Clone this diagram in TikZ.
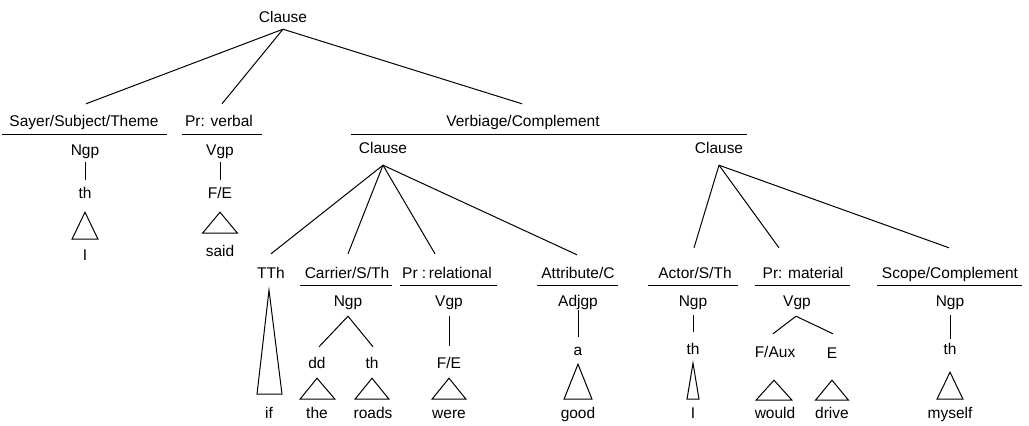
\documentclass[tikz,border=0pt]{standalone}
\usepackage{fontspec}
\setmainfont{Liberation Sans}

\begin{document}
\begin{tikzpicture}[
      x=1pt, y=-1pt,
      lbl/.style={font=\fontsize{15.5}{18}\selectfont, text height=11pt,
        text depth=3pt, inner xsep=1pt, inner ysep=4pt, anchor=base},
      branch/.style={line width=1pt},
      rule/.style={line width=1pt},
      roof/.style={line width=1pt, line join=miter}
    ]
    \useasboundingbox (0,0) rectangle (1029,426);

    % Top clause and its functions
    \node[lbl] (cl0) at (283,22) {Clause};
    \node[lbl] (sayer) at (84,126) {Sayer/Subject/Theme};
    \node[lbl] (prverb) at (219,126) {Pr: verbal};
    \node[lbl] (verbiage) at (523,126) {Verbiage/Complement};
    \draw[branch] (cl0.south) -- ([xshift=2pt,yshift=7pt]sayer.north);
    \draw[branch] (cl0.south) -- ([xshift=3pt,yshift=7pt]prverb.north);
    \draw[branch] (cl0.south) -- ([xshift=-1pt,yshift=7pt]verbiage.north);
    \draw[rule] (2,134) -- (167,134);
    \draw[rule] (182,134) -- (262,134);
    \draw[rule] (351,134) -- (747,134);

    % Sayer and process
    \node[lbl] (ngp1) at (85,155) {Ngp};
    \node[lbl] (th1) at (85,198) {th};
    \node[lbl] (w-i1) at (85,260) {I};
    \draw[branch] (ngp1.south) -- ([yshift=3pt]th1.north);
    \draw[roof] ([yshift=-7pt]th1.south) -- ++(-13,27) -- ++(26,0) -- cycle;

    \node[lbl] (vgp1) at (220,155) {Vgp};
    \node[lbl] (fe1) at (220,198) {F/E};
    \node[lbl] (w-said) at (220,256) {said};
    \draw[branch] (vgp1.south) -- ([yshift=3pt]fe1.north);
    \draw[roof] ([yshift=-7pt]fe1.south) -- ++(-17.5,21) -- ++(35,0) -- cycle;

    % Projected clauses
    \node[lbl] (cl1) at (383,153) {Clause};
    \node[lbl] (cl2) at (719,153) {Clause};

    % First projected clause
    \node[lbl] (tth) at (271,278) {TTh};
    \node[lbl] (carrier) at (347,278) {Carrier/S/Th};
    \node[lbl] (prrel) at (447,278) {Pr :\,relational};
    \node[lbl] (attr) at (578,278) {Attribute/C};
    \draw[branch] ([yshift=-5pt]cl1.south) -- ([yshift=9pt]tth.north);
    \draw[branch] ([yshift=-5pt]cl1.south) -- ([xshift=1pt,yshift=9pt]carrier.north);
    \draw[branch] ([yshift=-5pt]cl1.south) -- ([xshift=-12pt,yshift=9pt]prrel.north);
    \draw[branch] ([yshift=-5pt]cl1.south) -- ([xshift=-1pt,yshift=8pt]attr.north);
    \draw[rule] (300,285) -- (392,285);
    \draw[rule] (400,285) -- (497,285);
    \draw[rule] (537,285) -- (618,285);

    \node[lbl] (w-if) at (269,418) {if};
    \draw[roof] ([xshift=-2pt,yshift=-5pt]tth.south) -- ++(-12,104) -- ++(25,0) -- cycle;

    \node[lbl] (ngp2) at (348,306) {Ngp};
    \node[lbl] (dd) at (317,368) {dd};
    \node[lbl] (th2) at (372,368) {th};
    \node[lbl] (w-the) at (317,418) {the};
    \node[lbl] (w-roads) at (373,418) {roads};
    \draw[branch] ([yshift=-3pt]ngp2.south) -- ([xshift=2pt,yshift=6pt]dd.north);
    \draw[branch] ([yshift=-3pt]ngp2.south) -- ([xshift=1pt,yshift=6pt]th2.north);
    \draw[roof] ([yshift=-3pt]dd.south) -- ++(-17,21) -- ++(35,0) -- cycle;
    \draw[roof] ([yshift=-3pt]th2.south) -- ++(-17,21) -- ++(34,0) -- cycle;

    \node[lbl] (vgp2) at (449,306) {Vgp};
    \node[lbl] (fe2) at (449,368) {F/E};
    \node[lbl] (w-were) at (449,418) {were};
    \draw[branch] ([yshift=-3pt]vgp2.south) -- ([yshift=7pt]fe2.north);
    \draw[roof] ([yshift=-3pt]fe2.south) -- ++(-17,21) -- ++(34,0) -- cycle;

    \node[lbl] (adjgp) at (578,306) {Adjgp};
    \node[lbl] (a) at (578,355) {a};
    \node[lbl] (w-good) at (578,418) {good};
    \draw[branch] ([yshift=3pt]adjgp.south) -- ([yshift=3pt]a.north);
    \draw[roof] ([yshift=-2pt]a.south) -- ++(-14,35) -- ++(28,0) -- cycle;

    % Second projected clause
    \node[lbl] (actor) at (695,278) {Actor/S/Th};
    \node[lbl] (prmat) at (803,278) {Pr: material};
    \node[lbl] (scope) at (950,278) {Scope/Complement};
    \draw[branch] ([yshift=-5pt]cl2.south) -- ([xshift=-1pt,yshift=15pt]actor.north);
    \draw[branch] ([yshift=-5pt]cl2.south) -- ([xshift=-24pt,yshift=15pt]prmat.north);
    \draw[branch] ([yshift=-5pt]cl2.south) -- ([xshift=-1pt,yshift=15pt]scope.north);
    \draw[rule] (648,285) -- (738,285);
    \draw[rule] (755,285) -- (850,285);
    \draw[rule] (877,285) -- (1022,285);

    \node[lbl] (ngp3) at (693,306) {Ngp};
    \node[lbl] (th3) at (693,354) {th};
    \node[lbl] (w-i2) at (693,418) {I};
    \draw[branch] ([yshift=-2pt]ngp3.south) -- ([yshift=7pt]th3.north);
    \draw[roof] ([yshift=-2pt]th3.south) -- ++(-6,36) -- ++(12,0) -- cycle;

    \node[lbl] (vgp3) at (797,306) {Vgp};
    \node[lbl] (faux) at (775,357) {F/Aux};
    \node[lbl] (e) at (832,358) {E};
    \node[lbl] (w-would) at (775,418) {would};
    \node[lbl] (w-drive) at (832,418) {drive};
    \draw[branch] ([xshift=-1pt,yshift=-3pt]vgp3.south) -- ([xshift=-2pt,yshift=8pt]faux.north);
    \draw[branch] ([xshift=-1pt,yshift=-3pt]vgp3.south) -- ([xshift=1pt,yshift=9pt]e.north);
    \draw[roof] ([xshift=-1pt,yshift=-16pt]faux.south) -- ++(-18,20) -- ++(36,0) -- cycle;
    \draw[roof] ([yshift=-15pt]e.south) -- ++(-16.5,20) -- ++(33,0) -- cycle;

    \node[lbl] (ngp4) at (950,306) {Ngp};
    \node[lbl] (th4) at (950,354) {th};
    \node[lbl] (w-myself) at (950,418) {myself};
    \draw[branch] ([yshift=-2pt]ngp4.south) -- (th4.north);
    \draw[roof] ([yshift=-11pt]th4.south) -- ++(-13,27) -- ++(26,0) -- cycle;
  \end{tikzpicture}
\end{document}
